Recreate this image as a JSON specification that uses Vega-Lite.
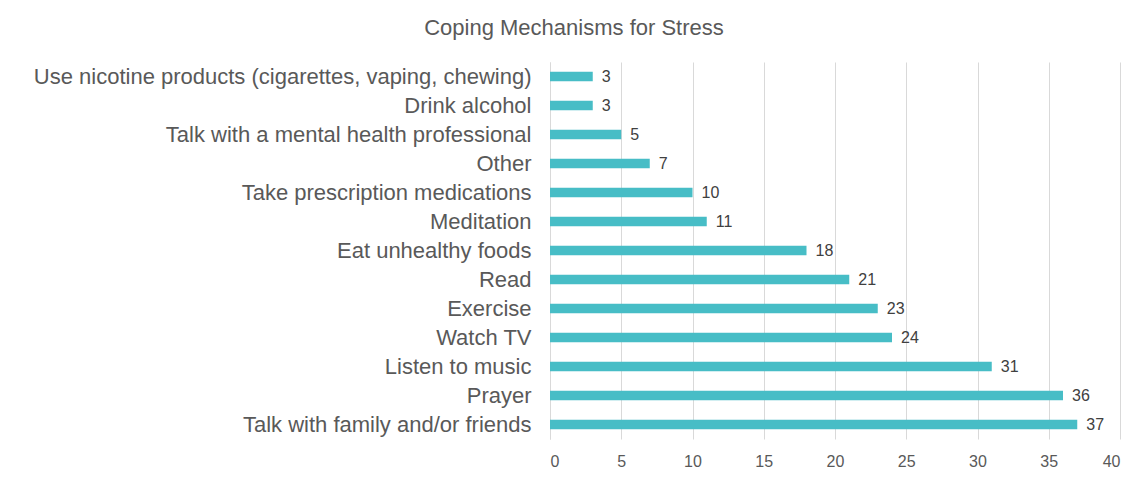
{
  "$schema": "https://vega.github.io/schema/vega-lite/v6.json",
  "width": 570,
  "height": 377,
  "autosize": {"type": "none"},
  "padding": {"left": 550, "top": 62, "right": 28, "bottom": 40},
  "background": "white",
  "title": {
    "text": "Coping Mechanisms for Stress",
    "font": "Liberation Sans",
    "fontSize": 22,
    "fontWeight": "normal",
    "color": "#595959",
    "anchor": "middle",
    "frame": "group",
    "dx": -261,
    "offset": 22
  },
  "data": {
    "values": [
      {"item": "Use nicotine products (cigarettes, vaping, chewing)", "count": 3},
      {"item": "Drink alcohol", "count": 3},
      {"item": "Talk with a mental health professional", "count": 5},
      {"item": "Other", "count": 7},
      {"item": "Take prescription medications", "count": 10},
      {"item": "Meditation", "count": 11},
      {"item": "Eat unhealthy foods", "count": 18},
      {"item": "Read", "count": 21},
      {"item": "Exercise", "count": 23},
      {"item": "Watch TV", "count": 24},
      {"item": "Listen to music", "count": 31},
      {"item": "Prayer", "count": 36},
      {"item": "Talk with family and/or friends", "count": 37}
    ]
  },
  "encoding": {
    "y": {
      "field": "item",
      "type": "nominal",
      "sort": null,
      "scale": {"paddingInner": 0.68, "paddingOuter": 0.34},
      "axis": {
        "title": null,
        "ticks": false,
        "domain": true,
        "domainColor": "#d9d9d9",
        "domainWidth": 1,
        "labelFont": "Liberation Sans",
        "labelFontSize": 22,
        "labelColor": "#595959",
        "labelPadding": 19,
        "labelLimit": 600
      }
    },
    "x": {
      "field": "count",
      "type": "quantitative",
      "scale": {"domain": [0, 40]},
      "axis": {
        "title": null,
        "values": [0, 5, 10, 15, 20, 25, 30, 35, 40],
        "grid": true,
        "gridColor": "#d9d9d9",
        "domain": false,
        "ticks": false,
        "labelFont": "Liberation Sans",
        "labelFontSize": 16,
        "labelColor": "#595959",
        "labelPadding": 14
      }
    }
  },
  "layer": [
    {"mark": {"type": "bar", "color": "#47BDC6"}},
    {
      "mark": {
        "type": "text",
        "align": "left",
        "baseline": "middle",
        "dx": 9,
        "font": "Liberation Sans",
        "fontSize": 16,
        "color": "#404040"
      },
      "encoding": {"text": {"field": "count", "type": "quantitative"}}
    }
  ],
  "config": {
    "view": {"stroke": null}
  }
}
